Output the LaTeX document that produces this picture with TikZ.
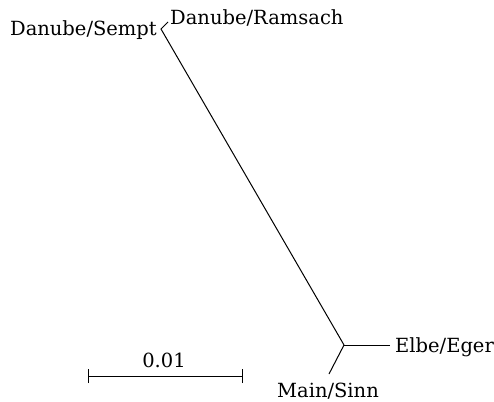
\documentclass[tikz,border=0pt]{standalone}
\usepackage{fontspec}
\setmainfont{DejaVu Serif}
\begin{document}
\begin{tikzpicture}[x=1pt,y=-1pt,
  branch/.style={line width=1pt, black},
  leaf/.style={inner sep=0pt, font=\fontsize{19.5}{21}\selectfont}]
\useasboundingbox (0,0) rectangle (494,401);
% internal nodes and tips
\coordinate (hub) at (344,345);
\coordinate (top) at (161,29);
\coordinate (ram) at (168,22);
\coordinate (elbe) at (390,345);
\coordinate (main) at (329,374);
% branches
\draw[branch] (ram) -- (top) -- (hub);
\draw[branch] (hub) -- (elbe);
\draw[branch] (hub) -- (main);
% tip labels
\node[leaf, anchor=base east] (lsempt) at (157,36) {Danube/Sempt};
\node[leaf, anchor=base west] (lram) at (170,25) {Danube/Ramsach};
\node[leaf, anchor=base west] (lelbe) at (395,352) {Elbe/Eger};
\node[leaf, anchor=base] (lmain) at (328,397) {Main/Sinn};
% scale bar
\coordinate (sa) at (88,376);
\coordinate (sb) at (242,376);
\draw[branch] (sa) -- (sb);
\draw[branch] ([yshift=-7]sa) -- ([yshift=7]sa);
\draw[branch] ([yshift=-7]sb) -- ([yshift=7]sb);
\node[leaf, anchor=base] (lscale) at (164,367) {0.01};
\end{tikzpicture}
\end{document}
